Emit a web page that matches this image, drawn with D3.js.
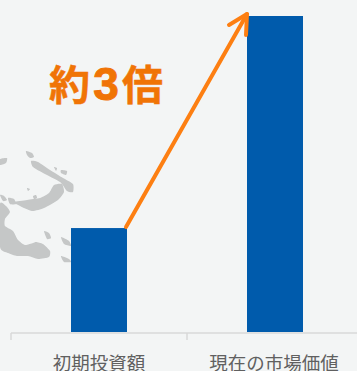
<!DOCTYPE html>
<html>
<head>
<meta charset="utf-8">
<script src="https://cdn.jsdelivr.net/npm/d3@7"></script>
<style>
html,body{margin:0;padding:0;background:#f3f5f5;overflow:hidden}
svg{display:block}
</style>
</head>
<body>
<svg id="chart" width="357" height="371">
  <defs><filter id="soft" x="-10%" y="-10%" width="120%" height="120%"><feGaussianBlur stdDeviation="0.5"/></filter></defs>
</svg>
<script>
// Investment compared with current market value
const categories = ["初期投資額", "現在の市場価値"];
const values = [100, 304];
const multipleLabel = ["約", "3", "倍"];

// Faint backdrop map: islands north of Australia
const islands = [
  [[0,204],[6,206],[10,212],[5,219],[5,226],[13,231],[18,240],[25,245],[33,243],[36,242],[43,244],[50,251],[49,257],[38,259],[28,256],[17,256],[8,253],[0,247]],
  [[14,202],[27,200],[40,198],[49,193],[54,185],[62,184],[64,192],[58,200],[44,208],[32,211],[20,206]],
  [[31,161],[38,162],[50,170],[63,178],[73,184],[73,192],[67,191],[60,182],[43,173],[33,167]],
  [[26,151],[32,153],[34,157],[30,158],[27,155]],
  [[0,159],[7,158],[6,163],[0,165]],
  [[0,195],[4,196],[7,200],[3,201]],
  [[8,198],[14,199],[16,204],[10,204]],
  [[44,231],[49,233],[51,238],[47,239]],
  [[61,237],[69,241],[71,246],[64,244]],
  [[61,256],[69,259],[71,262],[64,262]],
  [[61,170],[67,171],[66,175],[61,173]],
  [[42,167],[45,168],[44,170]],
  [[54,167],[57,168],[56,171]],
  [[27,188],[30,189],[28,191]],
  [[33,196],[36,195],[37,198],[34,199]]
];

const width = 357, height = 371, baseline = 333;
const svg = d3.select("#chart");

const x = d3.scaleBand().domain(categories).range([11, 363]);
const y = d3.scaleLinear().domain([0, d3.max(values)]).range([332, 16]);
const barWidth = 56;
const barLeft = c => x(c) + x.bandwidth() / 2 - barWidth / 2;

// Backdrop
const outline = d3.line().curve(d3.curveCardinalClosed.tension(0.4));
svg.append("g").attr("filter", "url(#soft)").selectAll("path").data(islands).join("path")
  .attr("d", outline).attr("fill", "#c5c7c7");

// Bars
svg.append("g").selectAll("rect").data(categories).join("rect")
  .attr("x", barLeft)
  .attr("y", (c, i) => y(values[i]))
  .attr("width", barWidth)
  .attr("height", (c, i) => y(0) - y(values[i]))
  .attr("fill", "#005bac");

// Category axis with ticks between the bands
const axis = svg.append("g").attr("stroke", "#d9d9d9").attr("stroke-width", 1.5);
axis.append("line").attr("x1", 11).attr("x2", width).attr("y1", baseline).attr("y2", baseline);
axis.selectAll("line.tick").data(categories).join("line").attr("class", "tick")
  .attr("x1", c => x(c)).attr("x2", c => x(c))
  .attr("y1", baseline).attr("y2", baseline + 7);

svg.append("g").selectAll("text").data(categories).join("text")
  .attr("x", (c, i) => x(c) + x.bandwidth() / 2 - i)
  .attr("y", 370)
  .attr("text-anchor", "middle")
  .attr("font-family", "'Noto Sans CJK JP', sans-serif")
  .attr("font-size", 18.5)
  .attr("fill", "#606060")
  .text(c => c);

// Growth arrow from the first bar to the top of the second
const arrowStart = [x(categories[0]) + x.bandwidth() / 2 + 27, y(values[0]) - 1];
const arrowEnd = [x(categories[1]) + x.bandwidth() / 2 - 28, y(values[1]) - 2];
const arrow = svg.append("g").attr("fill", "none").attr("stroke", "#fd7f12")
  .attr("stroke-width", 4).attr("stroke-linecap", "round").attr("stroke-linejoin", "round");
arrow.append("line")
  .attr("x1", arrowStart[0]).attr("y1", arrowStart[1])
  .attr("x2", arrowEnd[0]).attr("y2", arrowEnd[1]);
arrow.append("polyline")
  .attr("points", [[arrowEnd[0] - 18, arrowEnd[1] + 11], arrowEnd, [arrowEnd[0] - 1, arrowEnd[1] + 21]].join(" "));

// Multiple callout: the digit is set in a wider Latin face than the kanji
const calloutX = d3.scalePoint().domain(multipleLabel).range([69.5, 142.5]);
svg.append("text")
  .attr("y", 99.5)
  .attr("text-anchor", "middle")
  .attr("font-weight", 700)
  .attr("fill", "#f07406")
  .attr("stroke", "#f07406")
  .selectAll("tspan").data(multipleLabel).join("tspan")
  .attr("x", d => calloutX(d))
  .attr("font-family", d => d === "3" ? "'Liberation Sans', sans-serif" : "'Noto Sans CJK JP', sans-serif")
  .attr("font-size", d => d === "3" ? 46 : 41)
  .attr("stroke-width", d => d === "3" ? 1 : 0.5)
  .text(d => d);
</script>
</body>
</html>
